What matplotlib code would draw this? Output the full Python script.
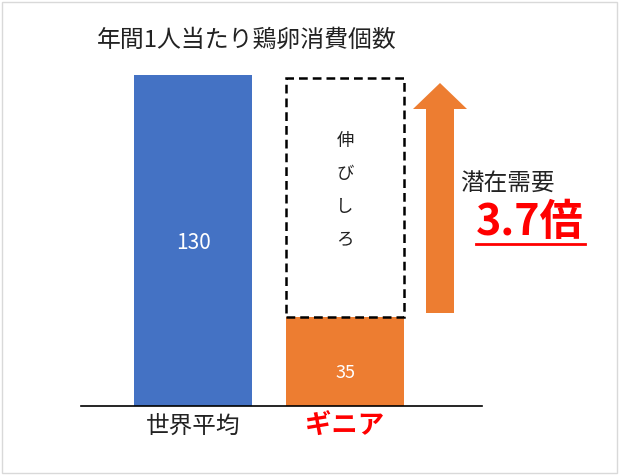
import matplotlib.pyplot as plt
from matplotlib.patches import Rectangle, Polygon

plt.rcParams['font.family'] = ['Noto Sans CJK JP', 'DejaVu Sans']

# データ
categories = ["世界平均", "ギニア"]
values = [130, 35]
potential = 130          # 伸びしろ（点線枠の上端）
bar_colors = ["#4472C4", "#ED7D31"]
title = "年間1人当たり鶏卵消費個数"
ratio_label = "3.7倍"

W, H = 619, 475
fig = plt.figure(figsize=(W / 100, H / 100), dpi=100)

# 軸の位置（ピクセル基準）
left, right, bottom, top = 81, 482, 406, 49
ax = fig.add_axes([left / W, 1 - bottom / H, (right - left) / W, (bottom - top) / H])
ax.set_xlim(-0.737, 1.901)
ax.set_ylim(0, 140)

x = [0, 1]
bars = ax.bar(x, values, width=0.776, color=bar_colors)

# 伸びしろ の点線枠
ax.add_patch(Rectangle((1 - 0.776 / 2, values[1]), 0.776, potential - values[1] - 1.5,
                       fill=False, edgecolor="black", linestyle=(0, (3.5, 2)), linewidth=1.8))
for i, ch in enumerate("伸びしろ"):
    ax.text(1, 104 - i * 13, ch, ha="center", va="center", fontsize=12.5, color="#222222")

# 棒の値
ax.text(x[0], 64, str(values[0]), ha="center", va="center", color="white", fontsize=15)
ax.text(x[1], 13, str(values[1]), ha="center", va="center", color="white", fontsize=13)

for s in ["left", "right", "top"]:
    ax.spines[s].set_visible(False)
ax.spines["bottom"].set_linewidth(1.2)
ax.set_yticks([])
ax.set_xticks([])

# カテゴリラベル
ax.text(x[0], -8, categories[0], ha="center", va="center", fontsize=17, color="#222222")
ax.text(x[1], -8, categories[1], ha="center", va="center", fontsize=19,
        color="red", fontweight="bold")

# タイトル
fig.text(97 / W, 1 - 40 / H, title, ha="left", va="center", fontsize=17.2, color="#222222")

# 上向き矢印（ピクセル座標）
pts = [(426, 313), (454, 313), (454, 109), (467, 109), (440, 83), (413, 109), (426, 109)]
arrow = Polygon([(px / W, 1 - py / H) for px, py in pts], closed=True,
                facecolor="#ED7D31", edgecolor="none", transform=fig.transFigure)
fig.patches.append(arrow)

fig.text(460 / W, 1 - 184 / H, "潜在需要", ha="left", va="center", fontsize=17, color="#222222")
fig.text(530 / W, 1 - 222 / H, ratio_label, ha="center", va="center", fontsize=31,
         color="red", fontweight="bold")
fig.add_artist(plt.Line2D([476 / W, 585 / W], [1 - 244 / H, 1 - 244 / H],
                          color="red", linewidth=2, transform=fig.transFigure))

# 外枠
fig.patches.append(Rectangle((2 / W, 2 / H), (W - 4) / W, (H - 4) / H, fill=False,
                             edgecolor="#d9d9d9", linewidth=1, transform=fig.transFigure))

fig.savefig("out.png", dpi=100)
